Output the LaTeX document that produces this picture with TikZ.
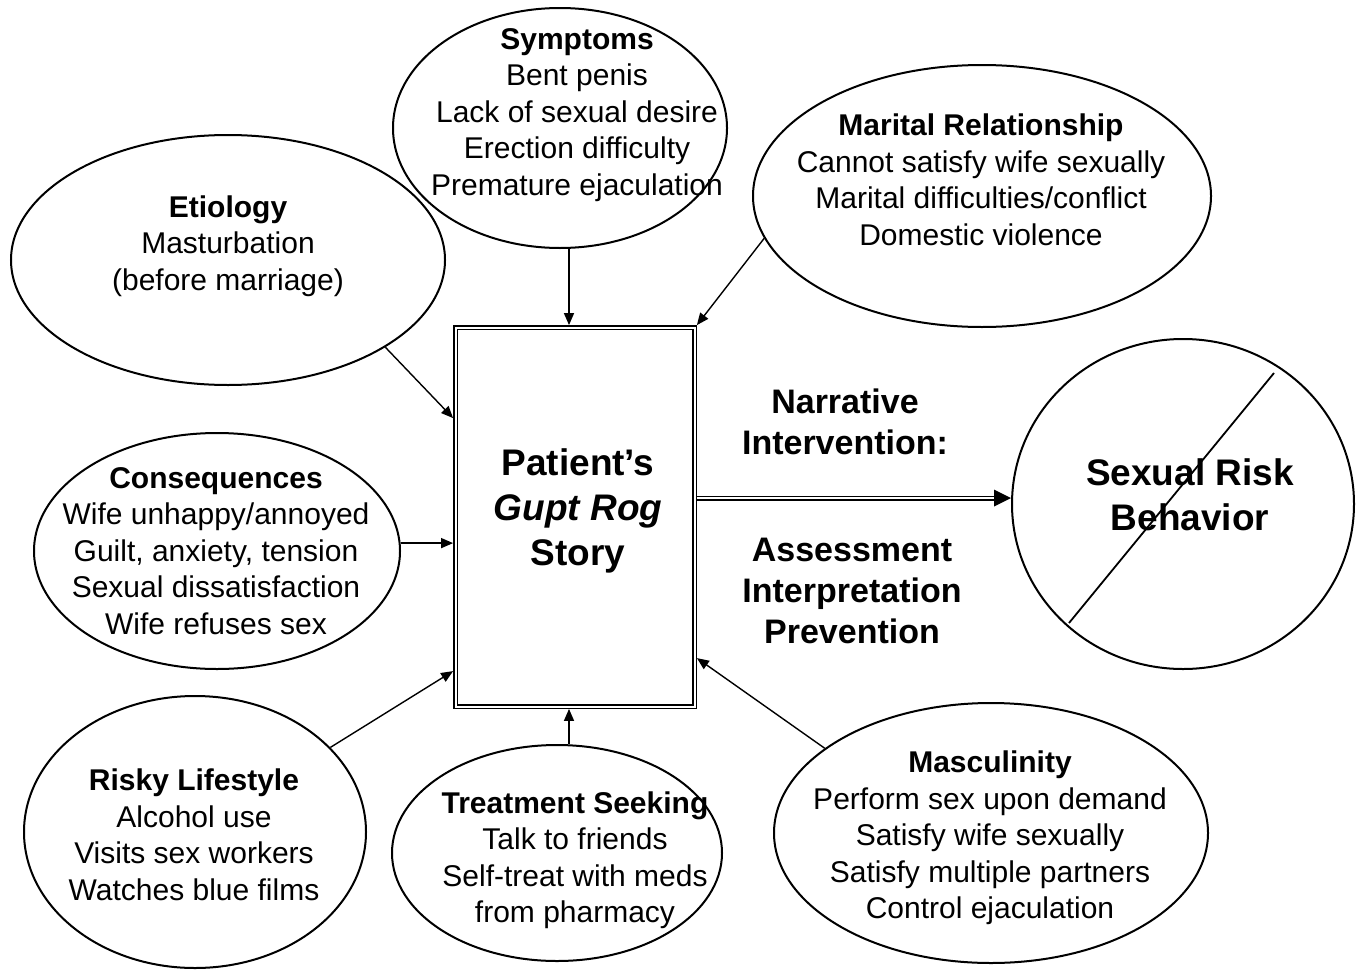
\documentclass[tikz,border=0pt]{standalone}
\usepackage{fontspec}
\setmainfont{Liberation Sans}
\usetikzlibrary{shapes.geometric,arrows.meta,calc}
\begin{document}
\begin{tikzpicture}[x=1pt,y=-1pt,
  oval/.style={draw, ellipse, line width=2pt, inner sep=0pt},
  body/.style={align=center, inner sep=0pt, font=\fontsize{30}{36.5}\selectfont},
  big/.style={align=center, inner sep=0pt, font=\fontsize{37}{45}\selectfont\bfseries},
  mid/.style={align=center, inner sep=0pt, font=\fontsize{34}{41}\selectfont\bfseries},
  arr/.style={line width=1.4pt, -{Triangle[length=12pt,width=10pt]}},
  story/.style={draw, double, line width=1.4pt, double distance=2pt, minimum width=239pt, minimum height=379pt, inner sep=0pt, outer sep=2.4pt}
]
\useasboundingbox (0,0) rectangle (1362,969);

% ellipses
\node[oval, minimum width=434pt, minimum height=250pt] (eti) at (228,260) {};
\node[oval, minimum width=334pt, minimum height=240pt] (sym) at (560,128) {};
\node[oval, minimum width=458pt, minimum height=262pt] (mar) at (982,196) {};
\node[oval, minimum width=366pt, minimum height=236pt] (con) at (217,551) {};
\node[oval, minimum width=342pt, minimum height=272pt] (risk) at (195,832) {};
\node[oval, minimum width=330pt, minimum height=216pt] (tre) at (557,853) {};
\node[oval, minimum width=434pt, minimum height=260pt] (mas) at (991,833) {};
\node[oval, minimum width=342pt, minimum height=330pt] (cir) at (1183,504) {};

% central box
\node[story] (box) at (575,517) {};

% texts
\node[body] (symT) at (577,115) {\textbf{Symptoms}\\Bent penis\\Lack of sexual desire\\Erection difficulty\\Premature ejaculation};
\node[body] (etiT) at (228,246) {\textbf{Etiology}\\Masturbation\\(before marriage)};
\node[body] (marT) at (981,180) {\textbf{Marital Relationship}\\Cannot satisfy wife sexually\\Marital difficulties/conflict\\Domestic violence};
\node[body] (conT) at (216,551) {\textbf{Consequences}\\Wife unhappy/annoyed\\Guilt, anxiety, tension\\Sexual dissatisfaction\\Wife refuses sex};
\node[body] (riskT) at (194,835) {\textbf{Risky Lifestyle}\\Alcohol use\\Visits sex workers\\Watches blue films};
\node[body] (treT) at (575,860) {\textbf{Treatment Seeking}\\Talk to friends\\Self-treat with meds\\from pharmacy};
\node[body] (masT) at (990,838) {\textbf{Masculinity}\\Perform sex upon demand\\Satisfy wife sexually\\Satisfy multiple partners\\Control ejaculation};
\node[big] (patT) at (578,511) {Patient’s\\\textit{Gupt Rog}\\Story};
\node[mid] (narT) at (845,422) {Narrative\\Intervention:};
\node[mid] (assT) at (852,591) {Assessment\\Interpretation\\Prevention};
\node[big] (srbT) at (1190,495) {Sexual Risk\\Behavior};

% box border points
\coordinate (bS) at ($(box.north)+(-6,0)$);
\coordinate (bM) at (box.north east);
\coordinate (bE) at ($(box.north west)+(0,93)$);
\coordinate (bC) at ($(box.north west)+(0,218)$);
\coordinate (bL) at ($(box.north west)+(0,346)$);
\coordinate (bT) at ($(box.south)+(-6,0)$);
\coordinate (bK) at ($(box.north east)+(0,333)$);
\coordinate (bR) at ($(box.north east)+(0,173)$);
\coordinate (cE) at (cir.west |- bR);

% connectors
\draw[arr] (sym.south -| bS) -- (bS);
\draw[arr] (mar.-169) -- (bM);
\draw[arr] (eti.-29) -- (bE);
\draw[arr] (con.east |- bC) -- (bC);
\draw[arr] (risk.32) -- (bL);
\draw[arr] (tre.north -| bT) -- (bT);
\draw[arr] (mas.153.6) -- (bK);

% double arrow
\draw[double, line width=1.3pt, double distance=2.2pt, shorten >=15pt] (bR) -- (cE);
\fill (cE) -- ++(-17,-8.5) -- ++(0,17) -- cycle;

% slash
\coordinate (s1) at ($(cir.center)+(91,-131)$);
\coordinate (s2) at ($(cir.center)+(-114,119)$);
\draw[line width=1.8pt] (s1) -- (s2);
\end{tikzpicture}
\end{document}
